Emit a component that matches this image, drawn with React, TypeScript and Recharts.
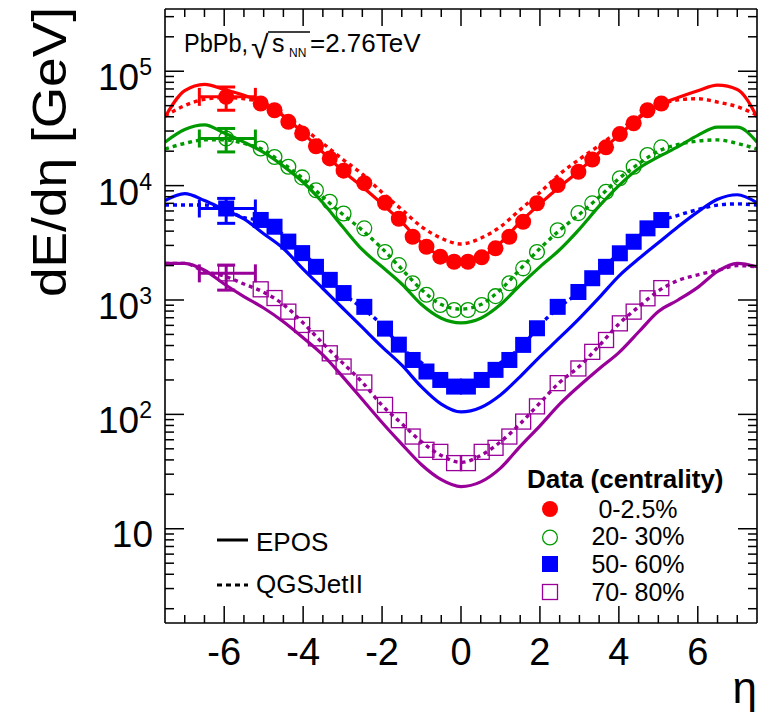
import React from 'react';
import { ComposedChart, Line, Scatter, XAxis, YAxis, ErrorBar } from 'recharts';

const FONT = '"Liberation Sans", Arial, Helvetica, sans-serif';
const RED = '#ff0000';
const GREEN = '#009a00';
const BLUE = '#0000ff';
const PURPLE = '#990099';

// eta of the measured points, the first one is the forward bin
const etaData = [
  -5.95, -5.075, -4.725, -4.375, -4.025, -3.675, -3.325, -2.975, -2.45, -1.925, -1.575, -1.225, -0.875, -0.525, -0.175,
  0.175, 0.525, 0.875, 1.225, 1.575, 1.925, 2.45, 2.975, 3.325, 3.675, 4.025, 4.375, 4.725, 5.075,
];
const data0to2p5 = [
  59700, 52200, 45600, 36100, 28600, 22100, 17300, 13500, 10500, 7080, 5130, 3570, 2920, 2390, 2160,
  2160, 2360, 2830, 3570, 4830, 7000, 10100, 13200, 16900, 21600, 28200, 35100, 45600, 52200,
];
const data20to30 = [
  25800, 21100, 17800, 14600, 11800, 9120, 7230, 5710, 4230, 2630, 2020, 1400, 1110, 904, 818,
  818, 904, 1080, 1400, 1890, 2630, 4070, 5750, 7000, 8830, 11600, 14600, 18500, 21600,
];
const data50to60 = [
  6310, 5010, 4370, 3240, 2570, 1950, 1500, 1150, 871, 562, 407, 299, 237, 200, 175,
  175, 200, 245, 299, 405, 566, 871, 1175, 1550, 1950, 2560, 3230, 4230, 5000,
];
const data70to80 = [
  1710, 1240, 1040, 791, 605, 462, 342, 262, 190, 121, 89, 64, 49, 47, 37.5,
  37.5, 47, 51, 64, 86.5, 117.5, 187.5, 252, 352, 447, 625, 791, 1035, 1270,
];

// errors of the forward point [low, high]
const fwdEtaErr = [0.68, 0.74];
const fwdErr0to2p5 = [14100, 13100];
const fwdErr20to30 = [6100, 5800];
const fwdErr50to60 = [1630, 1420];
const fwdErr70to80 = [490, 310];

// model curves
const etaModel = [
  -7.5, -7, -6.5, -6, -5.5, -5, -4.5, -4, -3.5, -3, -2.5, -2, -1.5, -1, -0.5, 0,
  0.5, 1, 1.5, 2, 2.5, 3, 3.5, 4, 4.5, 5, 5.5, 6, 6.5, 7, 7.5,
];
const epos0to2p5 = [
  39800, 67600, 76700, 69200, 61700, 52500, 40700, 28800, 19500, 13500, 9770, 6920, 4790, 3160, 2400, 2140,
  2340, 3160, 4790, 6920, 9770, 13500, 19500, 27500, 38900, 50100, 58900, 67600, 75500, 69200, 39800,
];
const qgs0to2p5 = [
  40700, 50100, 56900, 58900, 57500, 52500, 41700, 31600, 23400, 17000, 12600, 8710, 6170, 4370, 3470, 3090,
  3470, 4370, 6170, 8710, 12600, 17000, 22400, 30200, 39800, 50100, 56200, 57500, 53700, 49000, 41300,
];
const epos20to30 = [
  24000, 30900, 33900, 28800, 24000, 19500, 14800, 10700, 7080, 4370, 2750, 1950, 1380, 912, 692, 631,
  692, 912, 1350, 1950, 2750, 4170, 6610, 10000, 14100, 17800, 21900, 27500, 32400, 32400, 24000,
];
const qgs20to30 = [
  20900, 23400, 25100, 25100, 23400, 20400, 15500, 11500, 7940, 5620, 4070, 2820, 1860, 1230, 912, 832,
  912, 1230, 1860, 2820, 4070, 5620, 7940, 11500, 15500, 20000, 22900, 24500, 25100, 23400, 20900,
];
const epos50to60 = [
  7410, 8510, 7410, 6170, 5130, 3800, 2820, 1860, 1260, 851, 575, 389, 269, 174, 123, 105,
  115, 148, 214, 320, 468, 692, 1050, 1620, 2290, 3160, 4370, 5890, 7590, 8320, 7080,
];
const qgs50to60 = [
  6760, 6760, 6760, 6170, 5250, 4900, 3720, 2570, 1740, 1150, 851, 603, 380, 282, 195, 174,
  195, 282, 380, 603, 871, 1175, 1740, 2570, 3630, 4790, 5500, 6170, 6760, 6920, 6760,
];
const epos70to80 = [
  2090, 2090, 1820, 1380, 1070, 851, 646, 468, 331, 214, 135, 85, 55, 36.3, 26.9, 23.4,
  25.7, 33.9, 52.5, 79.4, 123, 178, 251, 347, 525, 794, 1000, 1290, 1780, 2090, 1950,
];
const qgs70to80 = [
  2090, 2090, 1780, 1620, 1380, 1170, 912, 631, 417, 282, 191, 120, 83, 57.5, 43.7, 38,
  43.7, 57.5, 83, 126, 191, 263, 398, 617, 871, 1200, 1480, 1660, 1820, 2000, 1950,
];

const xMajorTicks = [-6, -4, -2, 0, 2, 4, 6];
const xTicks = [
  -7, -6.5, -6, -5.5, -5, -4.5, -4, -3.5, -3, -2.5, -2, -1.5, -1, -0.5, 0,
  0.5, 1, 1.5, 2, 2.5, 3, 3.5, 4, 4.5, 5, 5.5, 6, 6.5, 7,
];
const yMajorTicks = [10, 100, 1000, 10000, 100000];
const yExponents = ['', '2', '3', '4', '5'];
const yTicks = [1, 10, 100, 1000, 10000, 100000]
  .flatMap(d => [1, 2, 3, 4, 5, 6, 7, 8, 9].map(m => m * d))
  .filter(v => v >= 2 && v <= 300000);

const centralityLabels = ['0-2.5%', '20- 30%', '50- 60%', '70- 80%'];

const toPoints = (xs: number[], ys: number[]) => xs.map((eta, i) => ({ eta, v: ys[i] }));

const series = [
  { color: RED, kind: 'fullCircle', data: data0to2p5, fwdErr: fwdErr0to2p5, epos: epos0to2p5, qgs: qgs0to2p5 },
  { color: GREEN, kind: 'openCircle', data: data20to30, fwdErr: fwdErr20to30, epos: epos20to30, qgs: qgs20to30 },
  { color: BLUE, kind: 'fullSquare', data: data50to60, fwdErr: fwdErr50to60, epos: epos50to60, qgs: qgs50to60 },
  { color: PURPLE, kind: 'openSquare', data: data70to80, fwdErr: fwdErr70to80, epos: epos70to80, qgs: qgs70to80 },
];

const drawMarker = (kind: string, color: string, cx: number, cy: number) => {
  switch (kind) {
    case 'fullCircle':
      return <circle cx={cx} cy={cy} r={8} fill={color} />;
    case 'openCircle':
      return <circle cx={cx} cy={cy} r={7.4} fill="none" stroke={color} strokeWidth={1.3} />;
    case 'fullSquare':
      return <rect x={cx - 8} y={cy - 8} width={16} height={16} fill={color} />;
    default:
      return <rect x={cx - 7.5} y={cy - 7.5} width={15} height={15} fill="none" stroke={color} strokeWidth={1.3} />;
  }
};

const markerShape = (kind: string, color: string) => (p: any) => {
  if (p.cx == null || p.cy == null) return <g />;
  return drawMarker(kind, color, p.cx, p.cy);
};

const tickStroke = { stroke: '#000', strokeWidth: 1.5 };

// tick callbacks get x/y on the axis line itself (tickSize and tickMargin are 0)
const LeftTick = ({ x, y, payload }: any) => {
  const k = yMajorTicks.indexOf(payload.value);
  return (
    <g>
      <line x1={x} y1={y} x2={x + (k >= 0 ? 19 : 9)} y2={y} {...tickStroke} />
      {k > 0 && (
        <text x={x - 13} y={y + 19} textAnchor="end" fontFamily={FONT} fontSize={37} fill="#000">
          10<tspan dy={-15} fontSize={23}>{yExponents[k]}</tspan>
        </text>
      )}
      {k === 0 && (
        <text x={x - 12} y={y + 18} textAnchor="end" fontFamily={FONT} fontSize={37} fill="#000">
          10
        </text>
      )}
    </g>
  );
};

const RightTick = ({ x, y, payload }: any) => {
  const major = yMajorTicks.includes(payload.value);
  return <line x1={x} y1={y} x2={x - (major ? 19 : 9)} y2={y} {...tickStroke} />;
};

const BottomTick = ({ x, y, payload }: any) => {
  const major = xMajorTicks.includes(payload.value);
  return (
    <g>
      <line x1={x} y1={y} x2={x} y2={y - (major ? 17 : 8)} {...tickStroke} />
      {major && (
        <text x={x} y={y + 42} textAnchor="middle" fontFamily={FONT} fontSize={38} fill="#000">
          {payload.value}
        </text>
      )}
    </g>
  );
};

const TopTick = ({ x, y, payload }: any) => {
  const major = xMajorTicks.includes(payload.value);
  return <line x1={x} y1={y} x2={x} y2={y + (major ? 17 : 8)} {...tickStroke} />;
};

const axisCommon = {
  tickLine: false,
  tickSize: 0,
  tickMargin: 0,
  interval: 0 as const,
  allowDataOverflow: true,
  axisLine: { stroke: '#000', strokeWidth: 1.6 },
};

const App: React.FC = () => {
  const legendY = [509, 537.5, 564, 592];
  const legendTextY = [518, 545, 573, 601];

  return (
    <div style={{ position: 'absolute', left: 0, top: 0, width: 758, height: 716, background: '#fff' }}>
      <ComposedChart width={758} height={716} margin={{ top: 8, right: 0, bottom: 92, left: 164 }}>
        <XAxis
          {...axisCommon}
          xAxisId={0}
          dataKey="eta"
          type="number"
          domain={[-7.5, 7.5]}
          ticks={xTicks}
          height={1}
          tick={BottomTick}
        />
        <XAxis
          {...axisCommon}
          xAxisId="top"
          orientation="top"
          dataKey="eta"
          type="number"
          domain={[-7.5, 7.5]}
          ticks={xTicks}
          height={1}
          tick={TopTick}
        />
        <YAxis
          {...axisCommon}
          yAxisId={0}
          dataKey="v"
          type="number"
          scale="log"
          domain={[1.5, 350000]}
          ticks={yTicks}
          width={1}
          tick={LeftTick}
        />
        <YAxis
          {...axisCommon}
          yAxisId="r"
          orientation="right"
          dataKey="v"
          type="number"
          scale="log"
          domain={[1.5, 350000]}
          ticks={yTicks}
          width={1}
          tick={RightTick}
        />

        {series.map((s, i) => (
          <Line
            key={`epos${i}`}
            data={toPoints(etaModel, s.epos)}
            dataKey="v"
            type="monotone"
            stroke={s.color}
            strokeWidth={3.2}
            dot={false}
            isAnimationActive={false}
          />
        ))}
        {series.map((s, i) => (
          <Line
            key={`qgs${i}`}
            data={toPoints(etaModel, s.qgs)}
            dataKey="v"
            type="monotone"
            stroke={s.color}
            strokeWidth={3.4}
            strokeDasharray="4 4"
            dot={false}
            isAnimationActive={false}
          />
        ))}

        {series.map((s, i) => (
          <Scatter
            key={`fwd${i}`}
            data={[{ eta: etaData[0], v: s.data[0], ex: fwdEtaErr, ey: s.fwdErr }]}
            shape={markerShape(s.kind, s.color)}
            isAnimationActive={false}
          >
            <ErrorBar dataKey="ey" direction="y" width={9} stroke={s.color} strokeWidth={3} isAnimationActive={false} />
            <ErrorBar dataKey="ex" direction="x" width={9} stroke={s.color} strokeWidth={3} isAnimationActive={false} />
          </Scatter>
        ))}
        {series.map((s, i) => (
          <Scatter
            key={`data${i}`}
            data={toPoints(etaData.slice(1), s.data.slice(1))}
            shape={markerShape(s.kind, s.color)}
            isAnimationActive={false}
          />
        ))}
      </ComposedChart>

      <svg
        width={758}
        height={716}
        style={{ position: 'absolute', left: 0, top: 0, pointerEvents: 'none' }}
        fontFamily={FONT}
      >
        <text
          transform="translate(66,152) rotate(-90)"
          textAnchor="middle"
          fontSize={48}
          textLength={290}
          lengthAdjust="spacingAndGlyphs"
        >
          dE/dη [GeV]
        </text>
        <text x={757} y={703} textAnchor="end" fontSize={44}>
          η
        </text>

        <text x={184} y={52} fontSize={25} textLength={64} lengthAdjust="spacingAndGlyphs">
          PbPb,
        </text>
        <text x={251} y={58} fontSize={32}>
          √
        </text>
        <line x1={268} y1={32} x2={310} y2={32} stroke="#000" strokeWidth={1.5} />
        <text x={272} y={52} fontSize={25}>
          s
        </text>
        <text x={289} y={57} fontSize={12}>
          NN
        </text>
        <text x={310} y={52} fontSize={26}>
          =2.76TeV
        </text>

        <line x1={217} y1={540} x2={248} y2={540} stroke="#000" strokeWidth={3} />
        <text x={256} y={551} fontSize={26}>
          EPOS
        </text>
        <line x1={217} y1={585} x2={248} y2={585} stroke="#000" strokeWidth={3} strokeDasharray="5 4" />
        <text x={256} y={593} fontSize={26}>
          QGSJetII
        </text>

        <text x={527} y={488} fontSize={26} fontWeight="bold">
          Data (centrality)
        </text>
        {series.map((s, i) => (
          <g key={`leg${i}`}>
            {drawMarker(s.kind, s.color, 550, legendY[i])}
            <text x={638} y={legendTextY[i]} textAnchor="middle" fontSize={25}>
              {centralityLabels[i]}
            </text>
          </g>
        ))}
      </svg>
    </div>
  );
};

export default App;
